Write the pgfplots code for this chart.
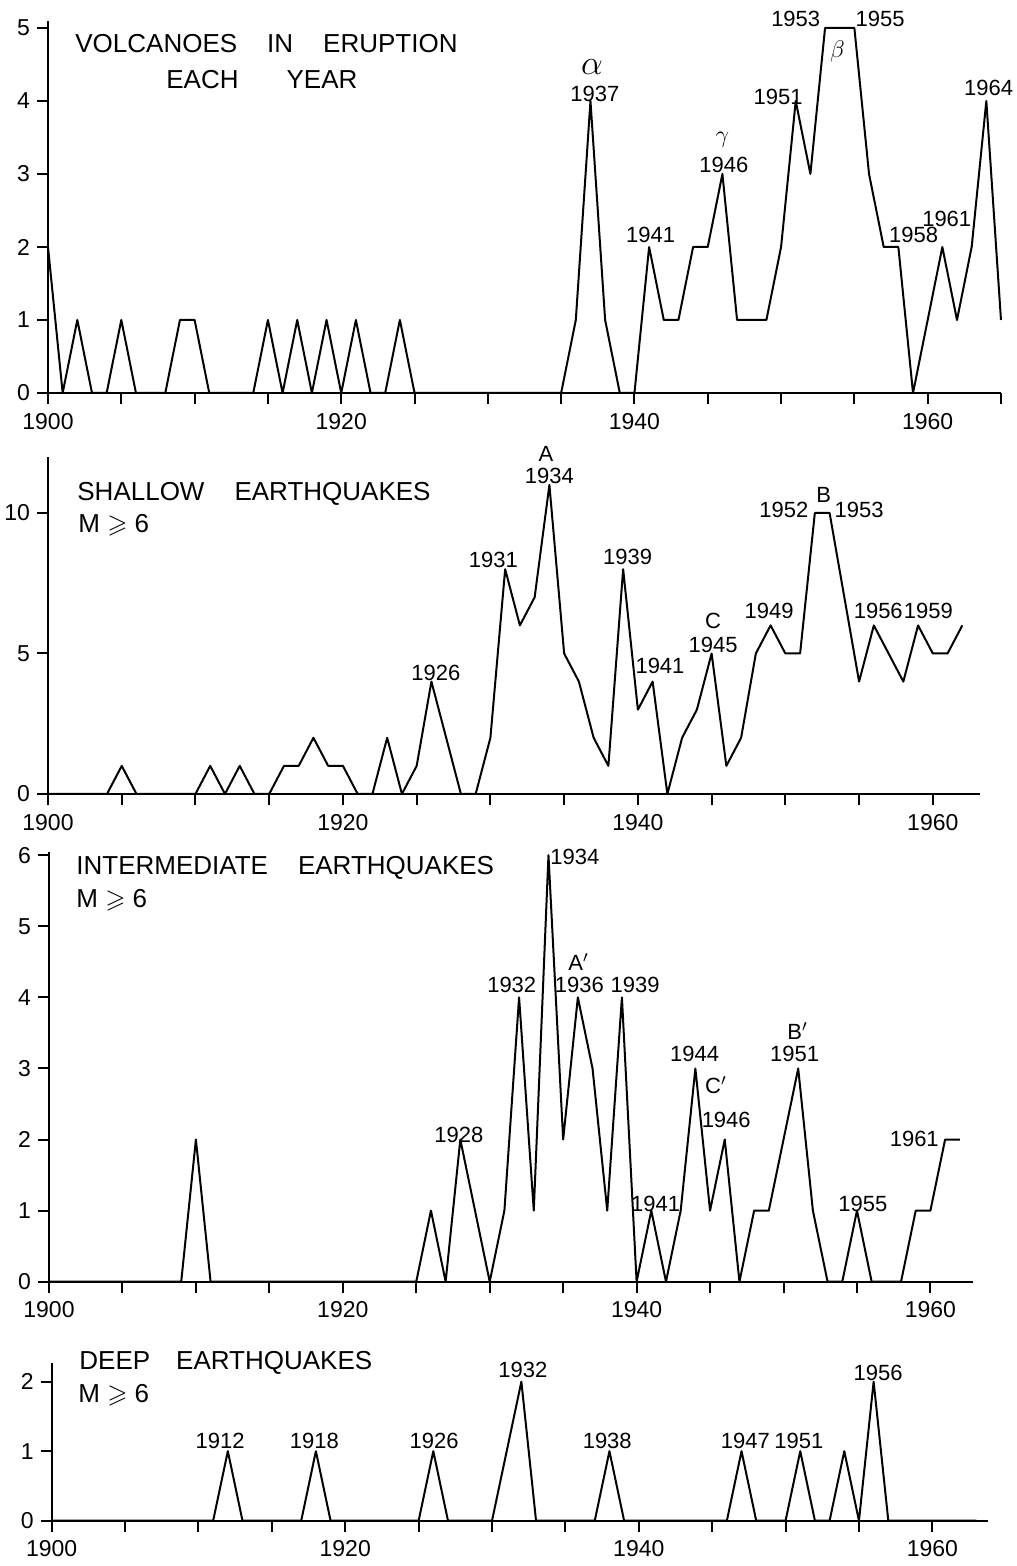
\documentclass[border=0pt]{standalone}
\usepackage{amssymb}
\usepackage{fontspec}
\setmainfont{Liberation Sans}
\usepackage{pgfplots}
\pgfplotsset{compat=1.18}

\pgfplotsset{
  panel/.style={
    scale only axis, anchor=south west, clip=false,
    axis x line=bottom, axis y line=left,
    axis line style={-, line width=1pt},
    xmin=1900, ymin=0,
    xtick={1900,1920,1940,1960}, xticklabels={1900,1920,1940,1960},
    minor xtick={1905,1910,1915,1925,1930,1935,1945,1950,1955},
    tick align=outside, major tick length=5.5pt, minor tick length=5.5pt,
    tick style={black, line width=1pt},
    minor tick style={black, line width=1pt},
    tick label style={font=\fontsize{11.5}{13}\selectfont},
    /pgf/number format/assume math mode=true,
    xticklabel style={yshift=-1pt},
  },
  data/.style={black, line width=1pt, mark=none, line join=round},
}
\tikzset{
  lab/.style={font=\fontsize{11}{12}\selectfont, inner sep=0pt},
  ttl/.style={font=\fontsize{13}{15}\selectfont, inner sep=0pt, anchor=base west},
}

\begin{document}
\begin{tikzpicture}
\path[use as bounding box] (0,0) rectangle (508pt,783pt);

% ---------------- Panel 1: volcanoes
\begin{axis}[panel, at={(24pt,586.5pt)}, width=476.5pt, height=186.15pt,
  xmax=1965, ymax=5.1, ytick={0,1,2,3,4,5},
  minor xtick={1905,1910,1915,1925,1930,1935,1945,1950,1955,1965}]
\addplot[data] table {
1900 2
1901 0
1902 1
1903 0
1904 0
1905 1
1906 0
1907 0
1908 0
1909 1
1910 1
1911 0
1912 0
1913 0
1914 0
1915 1
1916 0
1917 1
1918 0
1919 1
1920 0
1921 1
1922 0
1923 0
1924 1
1925 0
1935 0
1936 1
1937 4
1938 1
1939 0
1940 0
1941 2
1942 1
1943 1
1944 2
1945 2
1946 3
1947 1
1948 1
1949 1
1950 2
1951 4
1952 3
1953 5
1954 5
1955 5
1956 3
1957 2
1958 2
1959 0
1960 1
1961 2
1962 1
1963 2
1964 4
1965 1
};
\node[lab, font=\fontsize{16}{16}\selectfont] at (axis cs:1937.1,4.47) {$\alpha$};
\node[lab] at (axis cs:1937.3,4.1) {1937};
\node[lab] at (axis cs:1941.1,2.16) {1941};
\node[lab, font=\fontsize{13}{13}\selectfont] at (axis cs:1946,3.47) {$\gamma$};
\node[lab] at (axis cs:1946.1,3.13) {1946};
\node[lab] at (axis cs:1949.8,4.05) {1951};
\node[lab] at (axis cs:1951.0,5.12) {1953};
\node[lab] at (axis cs:1956.75,5.12) {1955};
\node[lab, font=\fontsize{13}{13}\selectfont] at (axis cs:1953.85,4.68) {$\beta$};
\node[lab] at (axis cs:1959.04,2.16) {1958};
\node[lab] at (axis cs:1961.3,2.38) {1961};
\node[lab] at (axis cs:1964.15,4.18) {1964};
\end{axis}

% ---------------- Panel 2: shallow
\begin{axis}[panel, at={(24pt,386pt)}, width=466pt, height=168.6pt,
  xmax=1963.2, ymax=12, ytick={0,5,10}]
\addplot[data] table {
1900 0
1904 0
1905 1
1906 0
1910 0
1911 1
1912 0
1913 1
1914 0
1915 0
1916 1
1917 1
1918 2
1919 1
1920 1
1921 0
1922 0
1923 2
1924 0
1925 1
1926 4
1927 2
1928 0
1929 0
1930 2
1931 8
1932 6
1933 7
1934 11
1935 5
1936 4
1937 2
1938 1
1939 8
1940 3
1941 4
1942 0
1943 2
1944 3
1945 5
1946 1
1947 2
1948 5
1949 6
1950 5
1951 5
1952 10
1953 10
1954 7
1955 4
1956 6
1957 5
1958 4
1959 6
1960 5
1961 5
1962 6
};
\node[lab] at (axis cs:1933.76,12.1) {A};
\node[lab] at (axis cs:1934.0,11.33) {1934};
\node[lab] at (axis cs:1930.2,8.33) {1931};
\node[lab] at (axis cs:1926.3,4.3) {1926};
\node[lab] at (axis cs:1939.3,8.42) {1939};
\node[lab] at (axis cs:1941.5,4.57) {1941};
\node[lab] at (axis cs:1945.1,6.17) {C};
\node[lab] at (axis cs:1945.1,5.32) {1945};
\node[lab] at (axis cs:1948.9,6.52) {1949};
\node[lab] at (axis cs:1949.9,10.11) {1952};
\node[lab] at (axis cs:1952.6,10.64) {B};
\node[lab] at (axis cs:1955.0,10.11) {1953};
\node[lab] at (axis cs:1956.3,6.52) {1956};
\node[lab] at (axis cs:1959.7,6.52) {1959};
\end{axis}

% ---------------- Panel 3: intermediate
\begin{axis}[panel, at={(24.5pt,142.15pt)}, width=462pt, height=215pt,
  xmax=1962.9, ymax=6.05, ytick={0,1,2,3,4,5,6}]
\addplot[data] table {
1900 0
1909 0
1910 2
1911 0
1925 0
1926 1
1927 0
1928 2
1929 1
1930 0
1931 1
1932 4
1933 1
1934 6
1935 2
1936 4
1937 3
1938 1
1939 4
1940 0
1941 1
1942 0
1943 1
1944 3
1945 1
1946 2
1947 0
1948 1
1949 1
1950 2
1951 3
1952 1
1953 0
1954 0
1955 1
1956 0
1957 0
1958 0
1959 1
1960 1
1961 2
1962 2
};
\node[lab] at (axis cs:1935.8,5.97) {1934};
\node[lab] at (axis cs:1931.5,4.18) {1932};
\node[lab] at (axis cs:1936.05,4.5) {A$'$};
\node[lab] at (axis cs:1936.1,4.18) {1936};
\node[lab] at (axis cs:1939.9,4.18) {1939};
\node[lab] at (axis cs:1943.95,3.21) {1944};
\node[lab] at (axis cs:1945.4,2.77) {C$'$};
\node[lab] at (axis cs:1946.1,2.27) {1946};
\node[lab] at (axis cs:1950.95,3.53) {B$'$};
\node[lab] at (axis cs:1950.75,3.2) {1951};
\node[lab] at (axis cs:1927.9,2.07) {1928};
\node[lab] at (axis cs:1941.3,1.09) {1941};
\node[lab] at (axis cs:1955.4,1.1) {1955};
\node[lab] at (axis cs:1958.9,2.01) {1961};
\end{axis}

% ---------------- Panel 4: deep
\begin{axis}[panel, at={(25.85pt,22.65pt)}, width=468.2pt, height=78.9pt,
  xmax=1963.8, ymax=2.27, ytick={0,1,2}]
\addplot[data] table {
1900 0
1911 0
1912 1
1913 0
1917 0
1918 1
1919 0
1925 0
1926 1
1927 0
1930 0
1931 1
1932 2
1933 0
1937 0
1938 1
1939 0
1946 0
1947 1
1948 0
1950 0
1951 1
1952 0
1953 0
1954 1
1955 0
1956 2
1957 0
1963 0
};
\node[lab] at (axis cs:1911.47,1.15) {1912};
\node[lab] at (axis cs:1917.9,1.15) {1918};
\node[lab] at (axis cs:1926.06,1.15) {1926};
\node[lab] at (axis cs:1932.1,2.17) {1932};
\node[lab] at (axis cs:1937.85,1.15) {1938};
\node[lab] at (axis cs:1947.26,1.15) {1947};
\node[lab] at (axis cs:1950.9,1.15) {1951};
\node[lab] at (axis cs:1956.3,2.13) {1956};
\end{axis}

% ---------------- titles
\node[ttl] at (37.5pt,756.5pt) {VOLCANOES\hspace{15pt}IN\hspace{15pt}ERUPTION};
\node[ttl] at (83pt,738.5pt) {EACH\hspace{24pt}YEAR};
\node[ttl] at (38.5pt,532.5pt) {SHALLOW\hspace{15pt}EARTHQUAKES};
\node[ttl] at (39pt,516.5pt) {M $\geqslant$ 6};
\node[ttl] at (38pt,345.5pt) {INTERMEDIATE\hspace{15pt}EARTHQUAKES};
\node[ttl] at (38pt,329pt) {M $\geqslant$ 6};
\node[ttl] at (39.5pt,98pt) {DEEP\hspace{13pt}EARTHQUAKES};
\node[ttl] at (39pt,81.5pt) {M $\geqslant$ 6};
\end{tikzpicture}
\end{document}
